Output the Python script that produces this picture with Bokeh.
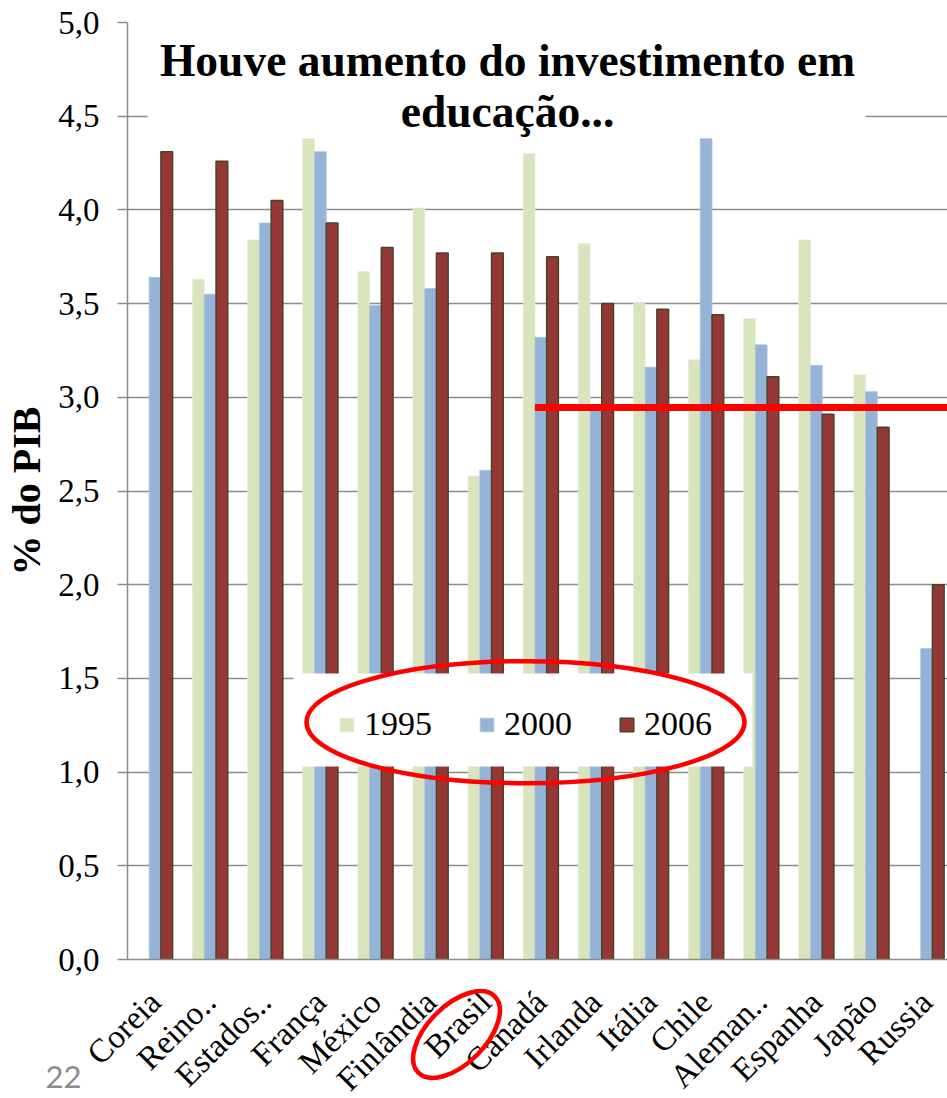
import numpy as np
from math import pi
from bokeh.plotting import figure
from bokeh.models import (ColumnDataSource, Range1d, FixedTicker, CustomJSTickFormatter,
                          Legend, LegendItem, BoxAnnotation, Label)
from bokeh.core.properties import value
from bokeh.embed import file_html
from bokeh.resources import INLINE

nan = float("nan")

# ---------------- data ----------------
countries = ["Coreia", "Reino..", "Estados..", "França", "México", "Finlândia", "Brasil",
             "Canadá", "Irlanda", "Itália", "Chile", "Aleman..", "Espanha", "Japão", "Russia"]
years = ["1995", "2000", "2006"]
y1995 = [nan, 3.63, 3.84, 4.38, 3.67, 4.01, 2.58, 4.30, 3.82, 3.50, 3.20, 3.42, 3.84, 3.12, nan]
y2000 = [3.64, 3.55, 3.93, 4.31, 3.49, 3.58, 2.61, 3.32, 2.93, 3.16, 4.38, 3.28, 3.17, 3.03, 1.66]
y2006 = [4.31, 4.26, 4.05, 3.93, 3.80, 3.77, 3.77, 3.75, 3.50, 3.47, 3.44, 3.11, 2.91, 2.84, 2.00]
y_ticks = [0.0, 0.5, 1.0, 1.5, 2.0, 2.5, 3.0, 3.5, 4.0, 4.5, 5.0]
ref_level = 2.945         # red reference line
highlight = "Brasil"

title_lines = ["Houve aumento do investimento em", "educação..."]
y_label = "% do PIB"
page_no = "22"

# ---------------- layout / style ----------------
W, H = 947, 1098
LEFT, TOP, BOTTOM = 127, 22, 139
X0, X1 = -0.5, 14.38
Y0, Y1 = 0.0, 5.0
FW, FH = W - LEFT, H - TOP - BOTTOM
SX = FW / (X1 - X0)          # px per category unit
SY = FH / (Y1 - Y0)          # px per value unit

def dx(px):   # canvas px -> data x
    return X0 + (px - LEFT) / SX

def dy(py):   # canvas px -> data y
    return Y0 + (H - BOTTOM - py) / SY

SERIF = "Liberation Serif"
colors = {"1995": "#D7E4BD", "2000": "#95B3D7", "2006": "#953735"}
edges = {"1995": "#E4ECD2", "2000": "#A9C1DF", "2006": "#4A4228"}
bar_w = 0.2125
offsets = {"1995": -bar_w, "2000": 0.0, "2006": bar_w}
series = {"1995": y1995, "2000": y2000, "2006": y2006}

p = figure(frame_width=FW, frame_height=FH, x_range=Range1d(X0, X1), y_range=Range1d(Y0, Y1),
           output_backend="svg", toolbar_location=None,
           min_border_left=LEFT, min_border_right=0, min_border_top=TOP,
           min_border_bottom=BOTTOM, outline_line_color=None,
           background_fill_color="white", border_fill_color="white")

idx = np.arange(len(countries))
renderers = {}
for yr in years:
    src = ColumnDataSource(dict(x=idx + offsets[yr], top=series[yr]))
    renderers[yr] = p.vbar(x="x", top="top", bottom=0, width=bar_w, source=src,
                           fill_color=colors[yr], line_color=edges[yr],
                           line_width=1.5 if yr == "2006" else 0.8)

# axes
p.xgrid.grid_line_color = None
p.ygrid.grid_line_color = "#8C8C8C"
p.ygrid.grid_line_width = 1.5

p.yaxis.ticker = FixedTicker(ticks=y_ticks)
p.yaxis.formatter = CustomJSTickFormatter(code="return tick.toFixed(1).replace('.', ',');")
p.yaxis.major_tick_out = 10
p.yaxis.major_tick_in = 0
p.yaxis.minor_tick_line_color = None
p.yaxis.axis_line_color = "#8C8C8C"
p.yaxis.major_tick_line_color = "#8C8C8C"
p.yaxis.axis_line_width = 1.5
p.yaxis.major_tick_line_width = 1.5
p.yaxis.major_label_text_font = SERIF
p.yaxis.major_label_text_font_size = "33px"
p.yaxis.major_label_text_color = "black"
p.yaxis.major_label_standoff = 18
p.yaxis.axis_label = y_label
p.yaxis.axis_label_text_font = SERIF
p.yaxis.axis_label_text_font_size = "40px"
p.yaxis.axis_label_text_font_style = "bold"
p.yaxis.axis_label_text_color = "black"
p.yaxis.axis_label_standoff = 6

p.xaxis.ticker = FixedTicker(ticks=list(range(len(countries))))
p.xaxis.major_label_overrides = {i: c for i, c in enumerate(countries)}
p.xaxis.major_label_orientation = pi / 4
p.xaxis.major_tick_line_color = None
p.xaxis.major_tick_out = 0
p.xaxis.minor_tick_line_color = None
p.xaxis.axis_line_color = "#8C8C8C"
p.xaxis.axis_line_width = 1.5
p.xaxis.major_label_text_font = SERIF
p.xaxis.major_label_text_font_size = "33px"
p.xaxis.major_label_text_color = "black"
p.xaxis.major_label_standoff = 37

# red reference line
i_can = countries.index("Canadá")
p.segment(x0=i_can - bar_w / 2, y0=ref_level, x1=X1, y1=ref_level,
          line_color="#FF0000", line_width=7)

# title box + title
p.add_layout(BoxAnnotation(left=dx(147), right=dx(865), top=dy(26), bottom=dy(136.5),
                           fill_color="white", fill_alpha=1, line_color=None))
p.add_layout(Label(x=dx(507), y=dy(60), text=title_lines[0], text_align="center",
                   text_baseline="alphabetic", text_font=SERIF, text_font_size="45.5px",
                   text_font_style="bold", text_color="black"))
p.add_layout(Label(x=dx(507), y=dy(111), text=title_lines[1], text_align="center",
                   text_baseline="alphabetic", text_font=SERIF, text_font_size="45.5px",
                   text_font_style="bold", text_color="black"))

# legend box + legend
p.add_layout(BoxAnnotation(left=dx(293), right=dx(752), top=dy(673), bottom=dy(766),
                           fill_color="white", fill_alpha=1, line_color=None))
legend = Legend(items=[LegendItem(label=yr, renderers=[renderers[yr]]) for yr in years],
                orientation="horizontal", location=(338 - LEFT, 216),
                padding=0, margin=0, spacing=46, label_standoff=9,
                glyph_width=17, glyph_height=17,
                label_text_font=SERIF, label_text_font_size="34px",
                label_text_color="black",
                background_fill_alpha=0, border_line_color=None)
p.add_layout(legend, "center")

# red ellipse around legend
p.ellipse(x=dx(525), y=dy(721.7), width=438, height=122, width_units="screen",
          height_units="screen", fill_color=None, line_color="#FF0000",
          line_width=4.5, level="overlay")

# red ellipse around the highlighted category label (below the axis)
p.ellipse(x=dx(456), y=dy(1034), width=108, height=58, angle=pi / 4,
          width_units="screen", height_units="screen", fill_color=None,
          line_color="#FF0000", line_width=4.5, level="overlay")

# page number
p.text(x=[dx(45)], y=[dy(1076)], text=[page_no], text_align="left",
       text_baseline="alphabetic", text_font=value("Lato"), text_font_size="31px",
       text_color="#8C8C8C", level="overlay")

open("out.html", "w").write(file_html(p, INLINE))
